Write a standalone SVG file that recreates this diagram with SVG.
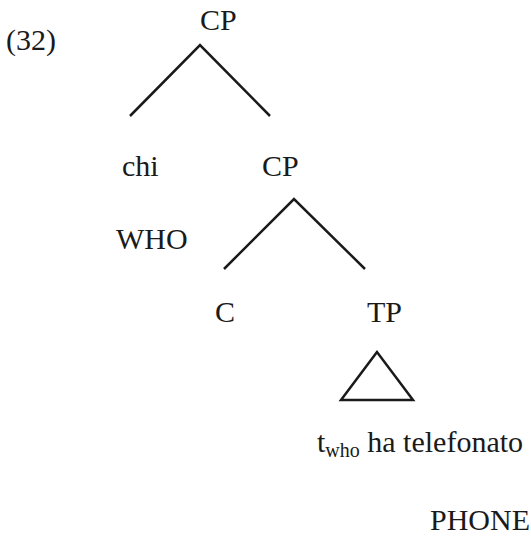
<svg xmlns="http://www.w3.org/2000/svg" width="531" height="542" viewBox="0 0 531 542">
<style>
text{font-family:"Liberation Serif","Times New Roman",serif;font-size:30px;fill:#1a1a1a}
.sub{font-size:20px}
.edge{stroke:#1a1a1a;stroke-width:2.5;fill:none;stroke-linecap:butt;stroke-linejoin:miter}
</style>
<rect width="531" height="542" fill="#ffffff"/>
<text id="label" x="6" y="50">(32)</text>
<g id="cp1"><text x="200" y="30">CP</text></g>
<g id="chi"><text x="122" y="176">chi</text><text x="116" y="249">WHO</text></g>
<g id="cp2"><text x="262" y="176">CP</text></g>
<g id="c"><text x="215" y="322">C</text></g>
<g id="tp"><text x="367" y="322">TP</text></g>
<g id="tpcontent"><text x="317" y="452">t<tspan class="sub" dy="5">who</tspan><tspan dy="-5"> ha telefonato</tspan></text><text x="430" y="530">PHONE</text></g>
<g id="connectors">
<polyline class="edge" points="130,116 200,45 270,116"/>
<polyline class="edge" points="224,269 294,199 365,269"/>
<polygon class="edge" points="377,352 341,400 413,400"/>
</g>
</svg>
